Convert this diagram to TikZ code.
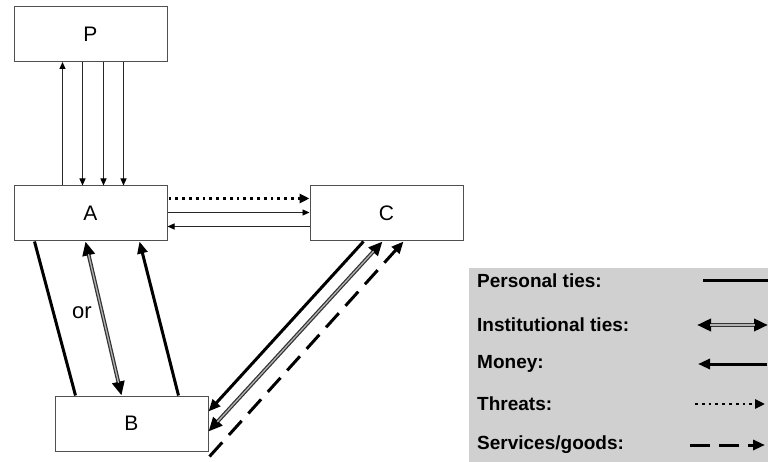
\documentclass[tikz,border=0pt]{standalone}
\usepackage{fontspec}
\setmainfont{Liberation Sans}
\usetikzlibrary{arrows.meta,calc}
\definecolor{boxline}{RGB}{80,80,80}
\definecolor{legendbg}{RGB}{208,208,208}
\tikzset{
  actor/.style={draw=boxline, line width=1pt, fill=white, minimum width=153pt,
    minimum height=55pt, inner sep=0pt, font=\fontsize{21}{23}\selectfont},
  thin/.style={line width=0.9pt, draw=black!85},
  thinhead/.style={-{Triangle[length=7pt,width=6pt,color=black]}},
  personal/.style={line width=3pt},
  money/.style={line width=3pt, -{Triangle[length=12pt,width=10pt]}},
  institutional/.style={draw=black!80, line width=3.8pt,
    {Triangle[length=14pt,width=12pt,color=black]}-{Triangle[length=14pt,width=12pt,color=black]},
    postaction={draw=black!30, line width=1.3pt, -, shorten <=13pt, shorten >=13pt}},
  threat/.style={line width=2.8pt, dash pattern=on 2.8pt off 4pt,
    -{Triangle[length=10pt,width=9pt]}},
  service/.style={line width=3pt, dash pattern=on 19pt off 10pt,
    -{Triangle[length=12pt,width=10pt]}},
  legendtext/.style={anchor=west, inner sep=0pt, font=\bfseries\fontsize{19}{21}\selectfont}
}
\begin{document}
\begin{tikzpicture}[x=1pt, y=-1pt]
\useasboundingbox (0,0) rectangle (768,462);

% actors
\node[actor] (P) at (90.5,34) {P};
\node[actor] (A) at (90.5,213.5) {A};
\node[actor] (C) at (386.5,213.5) {C};
\node[actor] (B) at (131.5,423.5) {B};

% P and A
\draw[thin, thinhead] ($(A.north west)+(49,0)$) -- ($(P.south west)+(49,0)$);
\foreach \dx in {69,90,110}
  \draw[thin, thinhead] ($(P.south west)+(\dx,0)$) -- ($(A.north west)+(\dx,0)$);

% A and C
\draw[threat] ($(A.north east)+(1,13)$) -- ($(C.north west)+(0,13)$);
\draw[thin, thinhead] ($(A.north east)+(0,27)$) -- ($(C.north west)+(0,27)$);
\draw[thin, thinhead] ($(C.north west)+(0,41)$) -- ($(A.north east)+(0,41)$);

% A and B
\draw[personal] ($(A.south west)+(21,0)$) -- ($(B.north west)+(21,0)$);
\draw[institutional] ($(A.south west)+(72,0)$) -- ($(B.north west)+(67,0)$);
\draw[money] ($(B.north west)+(124,0)$) -- ($(A.south west)+(126,0)$);
\node[font=\fontsize{22}{24}\selectfont] (or) at (82,313) {or};

% C and B
\draw[money] ($(C.south west)+(54,0)$) -- ($(B.north east)+(0,16)$);
\draw[institutional] ($(C.south west)+(73,0)$) -- ($(B.north east)+(0,36)$);
\draw[service] ($(B.north east)+(1,61)$) -- ($(C.south west)+(94,0)$);

% legend
\fill[legendbg] (469,268) rectangle (768,462);
\node[legendtext] (l1) at (477,281) {Personal ties:};
\node[legendtext] (l2) at (477,325) {Institutional ties:};
\node[legendtext] (l3) at (477,364) {Money:};
\node[legendtext] (l4) at (477,404) {Threats:};
\node[legendtext] (l5) at (477,445) {Services/goods:};
\coordinate (s1a) at (703,281); \coordinate (s1b) at (770,281);
\coordinate (s2a) at (697,325); \coordinate (s2b) at (768,325);
\coordinate (s3a) at (767,364); \coordinate (s3b) at (698,364);
\coordinate (s4a) at (695,404); \coordinate (s4b) at (765,404);
\coordinate (s5a) at (690,445); \coordinate (s5b) at (765,445);
\draw[personal] (s1a) -- (s1b);
\draw[institutional] (s2a) -- (s2b);
\draw[money] (s3a) -- (s3b);
\draw[threat] (s4a) -- (s4b);
\draw[service, dash pattern=on 20pt off 9pt] (s5a) -- (s5b);
\end{tikzpicture}
\end{document}
